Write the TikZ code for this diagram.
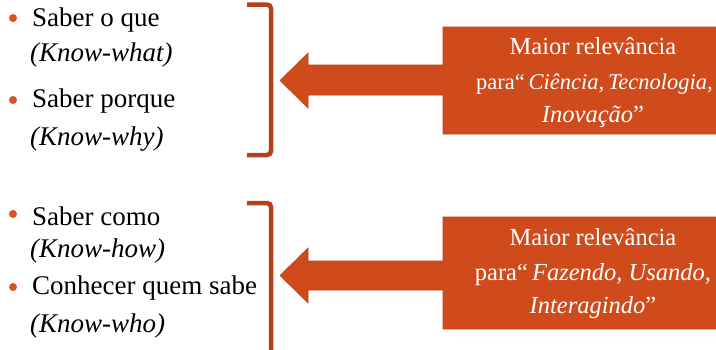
\documentclass[tikz,border=0pt]{standalone}
\usepackage{fontspec}
\setmainfont{Liberation Serif}
\definecolor{boxfill}{HTML}{D04B1C}
\definecolor{boxedge}{HTML}{B8421A}
\definecolor{brk}{HTML}{B5401A}
\definecolor{bul}{HTML}{D5541F}
\begin{document}
\begin{tikzpicture}[x=1pt,y=-1pt,
  itemtxt/.style={anchor=base west,inner sep=0pt,font=\fontsize{27}{30}\selectfont},
  subtxt/.style={anchor=base west,inner sep=0pt,font=\fontsize{27}{30}\selectfont\itshape},
  bullet/.style={circle,fill=bul,inner sep=0pt,minimum size=8pt},
  boxtxt/.style={anchor=base,inner sep=0pt,text=white,font=\fontsize{24.5}{30}\selectfont},
  bracket/.style={draw=brk,line width=4.5pt,rounded corners=4pt},
  arrowshape/.style={fill=boxfill,draw=boxedge,line width=0.6pt}]
\useasboundingbox (0,0) rectangle (716,349);
\fill[white] (0,0) rectangle (716,349);

% top group
\node[bullet] (b1) at (13,18) {};
\node[itemtxt] (t1) at (32,26) {Saber o que};
\node[subtxt] (t1s) at (30,61) {(Know-what)};
\node[bullet] (b2) at (13,100) {};
\node[itemtxt] (t2) at (32,107) {Saber porque};
\node[subtxt] (t2s) at (30,145) {(Know-why)};
\draw[bracket] (247,4.5) -- (271,4.5) -- (271,155) -- (247,155);

% bottom group
\node[bullet] (b3) at (13,214) {};
\node[itemtxt] (t3) at (32,225) {Saber como};
\node[subtxt] (t3s) at (30,257) {(Know-how)};
\node[bullet] (b4) at (13,287) {};
\node[itemtxt] (t4) at (32,294) {Conhecer quem sabe};
\node[subtxt] (t4s) at (30,332) {(Know-who)};
\draw[bracket] (247,203) -- (271,203) -- (271,360);

% top arrow callout
\draw[arrowshape] (745,27) -- (443,27) -- (443,65) -- (308,65) -- (308,53) -- (280,80.5)
  -- (308,108) -- (308,95) -- (443,95) -- (443,134) -- (745,134);
\node[boxtxt] (a1) at (593,54) {Maior relevância};
\node[boxtxt,anchor=base west,font=\fontsize{22.5}{30}\selectfont] (a2) at (476,89) {para“\,\textit{Ciência,\,Tecnologia,}};
\node[boxtxt] (a3) at (593,122) {\textit{Inovação}”};

% bottom arrow callout
\draw[arrowshape] (745,217) -- (443,217) -- (443,261) -- (308,261) -- (308,248) -- (280,275.5)
  -- (308,303) -- (308,290) -- (443,290) -- (443,329) -- (745,329);
\node[boxtxt] (c1) at (593,245) {Maior relevância};
\node[boxtxt] (c2) at (593,280) {para“\,\textit{Fazendo, Usando,}};
\node[boxtxt] (c3) at (593,313) {\textit{Interagindo}”};
\end{tikzpicture}
\end{document}
